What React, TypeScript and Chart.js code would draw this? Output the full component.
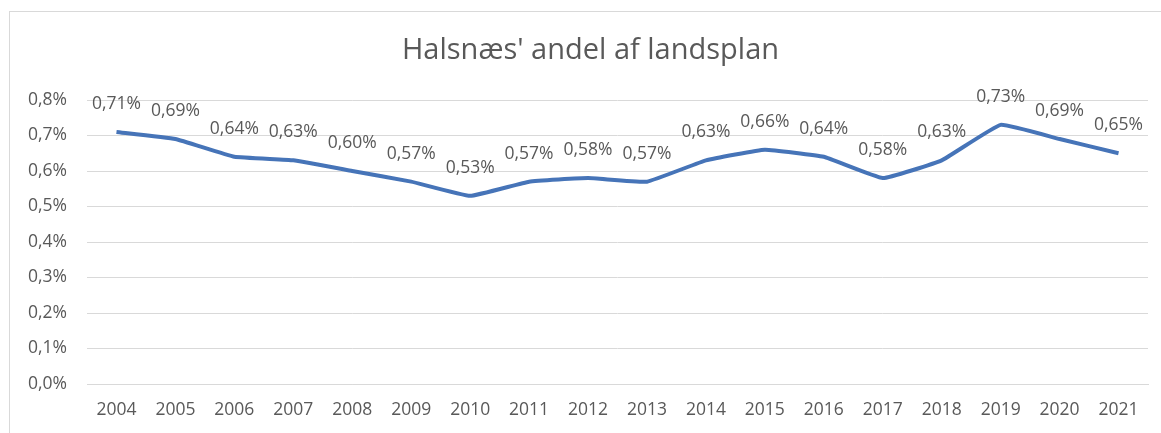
import React, { useEffect, useRef } from "react";
import { Chart, registerables } from "chart.js";

Chart.register(...registerables);

const titleText = "Halsnæs' andel af landsplan";
const years = ["2004","2005","2006","2007","2008","2009","2010","2011","2012","2013","2014","2015","2016","2017","2018","2019","2020","2021"];
const shares = [0.71,0.69,0.64,0.63,0.60,0.57,0.53,0.57,0.58,0.57,0.63,0.66,0.64,0.58,0.63,0.73,0.69,0.65];
const yMin = 0;
const yMax = 0.8;
const yStep = 0.1;

const FONT = "'Open Sans', sans-serif";
const TEXT = "#595959";

const fmt = (v: number, d: number) => v.toFixed(d).replace(".", ",") + "%";

const overlay = {
  id: "overlay",
  afterDatasetsDraw(chart: any) {
    const ctx = chart.ctx;
    const meta = chart.getDatasetMeta(0);
    ctx.save();
    ctx.font = "17.5px " + FONT;
    ctx.fillStyle = TEXT;
    ctx.textAlign = "center";
    ctx.textBaseline = "middle";
    meta.data.forEach((pt: any, i: number) => {
      ctx.fillText(fmt(shares[i], 2), pt.x, pt.y - 28);
    });
    ctx.font = "29px " + FONT;
    ctx.fillText(titleText, chart.width / 2 + 10, 51);
    ctx.restore();
  },
};

export default function App() {
  const ref = useRef<HTMLCanvasElement | null>(null);
  useEffect(() => {
    if (!ref.current) return;
    const chart = new Chart(ref.current, {
      type: "line",
      data: {
        labels: years,
        datasets: [
          {
            data: shares,
            borderColor: "#4674B8",
            borderWidth: 4,
            pointRadius: 0,
            tension: 0.1,
            fill: false,
          },
        ],
      },
      plugins: [overlay],
      options: {
        animation: false,
        responsive: false,
        maintainAspectRatio: false,
        layout: { padding: { left: 0, right: 13, top: 100, bottom: 0 } },
        plugins: { legend: { display: false }, tooltip: { enabled: false }, title: { display: false } },
        scales: {
          x: {
            offset: true,
            grid: { display: false, drawTicks: false },
            border: { color: "#d9d9d9" },
            ticks: { color: TEXT, font: { family: FONT, size: 17.5 }, padding: 16, maxRotation: 0, autoSkip: false },
            afterFit: (s: any) => { s.height = 49; },
          },
          y: {
            min: yMin,
            max: yMax,
            grid: { color: "#d9d9d9", drawTicks: false },
            border: { display: false },
            ticks: {
              stepSize: yStep,
              color: TEXT,
              font: { family: FONT, size: 17.5 },
              padding: 20,
              callback: (v: any) => fmt(Number(v), 1),
            },
            afterFit: (s: any) => { s.width = 87; },
          },
        },
      },
    });
    return () => chart.destroy();
  }, []);
  return (
    <div style={{ position: "fixed", left: 0, top: 0, width: 1161, height: 433, overflow: "hidden", background: "#fff" }}>
      <div style={{ position: "absolute", left: 9, top: 11, width: 1300, height: 600, border: "1px solid #d9d9d9" }} />
      <canvas ref={ref} width={1161} height={433} style={{ position: "absolute", left: 0, top: 0, width: 1161, height: 433 }} />
    </div>
  );
}
